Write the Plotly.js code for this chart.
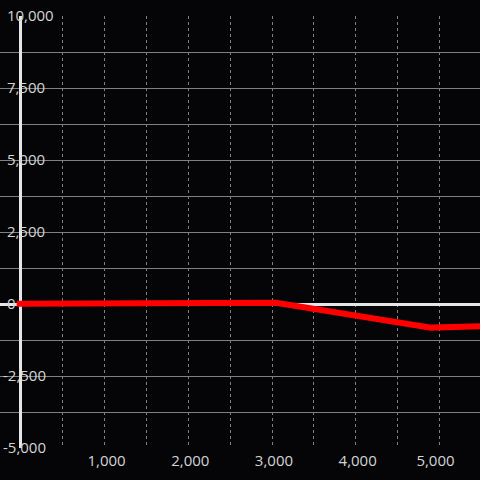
<!DOCTYPE html>
<html>
<head>
<meta charset="utf-8">
<script src="https://cdn.plot.ly/plotly-3.0.1.min.js"></script>
<style>html,body{margin:0;padding:0;background:#050508;}#chart{width:480px;height:480px;}</style>
</head>
<body>
<div id="chart"></div>
<script>
var xValues = [-50, 1000, 2000, 3050, 4900, 5500];
var yValues = [10, 20, 31, 42, -820, -775];
var xTickVals = [1000, 2000, 3000, 4000, 5000];
var xTickText = ['\u00a01,000', '\u00a02,000', '\u00a03,000', '\u00a04,000', '\u00a05,000\u00a0\u00a0\u00a0'];
var yTickVals = [10000, 7500, 5000, 2500, 0, -2500, -5000];
var yTickText = ['\u00a010,000', '\u00a07,500', '\u00a05,000', '\u00a02,500', '\u00a00', '-2,500', '-5,000'];

var bg = '#050508';
var fontFam = '"Open Sans", sans-serif';
var fontSize = 15;

// dark boxes behind the inside y tick labels (cover grid and zero lines there)
var ctx = document.createElement('canvas').getContext('2d');
ctx.font = fontSize + 'px "Open Sans"';
var labelBoxes = yTickVals.map(function (v, i) {
  var w = ctx.measureText(yTickText[i]).width;
  return {
    type: 'rect', layer: 'between',
    xref: 'paper', xsizemode: 'pixel', xanchor: 0, x0: 0, x1: 3 + w,
    yref: 'y', ysizemode: 'pixel', yanchor: v, y0: -8, y1: 4.5,
    fillcolor: bg, line: {width: 0}
  };
});

var data = [{
  x: xValues,
  y: yValues,
  type: 'scatter',
  mode: 'lines',
  line: {color: '#ff0000', width: 6},
  hoverinfo: 'none'
}];

var layout = {
  width: 480,
  height: 480,
  margin: {l: 0, r: 0, t: 16, b: 32, pad: 0},
  paper_bgcolor: bg,
  plot_bgcolor: bg,
  showlegend: false,
  font: {family: fontFam, size: fontSize, color: '#d4d4d4'},
  shapes: labelBoxes,
  xaxis: {
    range: [-250, 5485],
    tickmode: 'array',
    tickvals: xTickVals,
    ticktext: xTickText,
    showgrid: true,
    gridcolor: '#808080',
    gridwidth: 1,
    griddash: 'dot',
    minor: {tickmode: 'linear', tick0: 0, dtick: 500, showgrid: true, gridcolor: '#808080', gridwidth: 1, griddash: 'dot'},
    zeroline: true,
    zerolinecolor: '#e6e6e6',
    zerolinewidth: 3,
    showline: false,
    ticks: '',
    ticklabelstandoff: 2,
    tickfont: {family: fontFam, size: fontSize, color: '#d4d4d4'}
  },
  yaxis: {
    range: [-5000, 10000],
    tickmode: 'array',
    tickvals: yTickVals,
    ticktext: yTickText,
    showgrid: true,
    gridcolor: '#808080',
    gridwidth: 1,
    minor: {tickmode: 'linear', tick0: 0, dtick: 1250, showgrid: true, gridcolor: '#808080', gridwidth: 1},
    zeroline: true,
    zerolinecolor: '#e6e6e6',
    zerolinewidth: 3,
    showline: false,
    ticks: '',
    ticklabelposition: 'inside',
    ticklabeloverflow: 'allow',
    ticklabelstandoff: 0,
    tickfont: {family: fontFam, size: fontSize, color: '#d4d4d4'}
  }
};

Plotly.newPlot('chart', data, layout, {displayModeBar: false, staticPlot: true});
</script>
</body>
</html>
